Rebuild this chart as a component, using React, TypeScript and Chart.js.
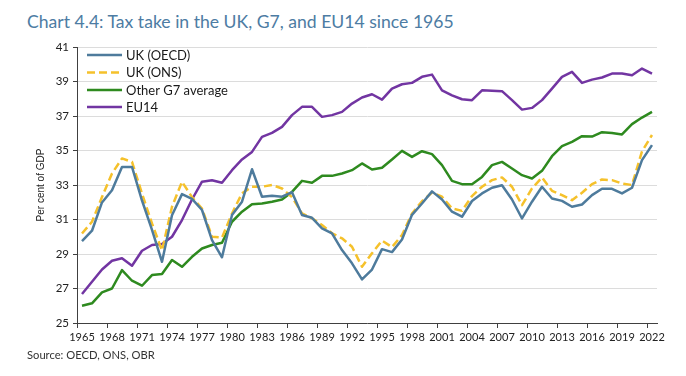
import React, { useEffect, useRef } from "react";
import { Chart, registerables } from "chart.js";

Chart.register(...registerables);

const years: string[] = [];
for (let y = 1965; y <= 2022; y++) years.push(String(y));

const ukOecd = [
  29.75, 30.35, 31.99, 32.7, 34.05, 34.05, 32.1, 30.4, 28.55, 31.25,
  32.47, 32.2, 31.55, 29.8, 28.81, 31.26, 32.03, 33.91, 32.32, 32.37,
  32.32, 32.58, 31.26, 31.1, 30.49, 30.2, 29.23, 28.46, 27.53, 28.1,
  29.28, 29.11, 29.84, 31.27, 31.93, 32.63, 32.16, 31.45, 31.16, 32.07,
  32.51, 32.84, 32.99, 32.16, 31.06, 32.03, 32.9, 32.22, 32.08, 31.74,
  31.87, 32.41, 32.78, 32.78, 32.51, 32.84, 34.44, 35.31,
];
const ukOns = [
  30.19, 30.87, 32.3, 33.67, 34.54, 34.34, 32.5, 30.77, 29.2, 31.74,
  33.19, 32.3, 31.64, 30.0, 29.95, 31.35, 32.52, 32.9, 32.9, 33.0,
  32.8, 32.3, 31.36, 31.07, 30.68, 30.2, 29.91, 29.42, 28.26, 29.04,
  29.78, 29.4, 30.1, 31.35, 32.06, 32.56, 32.32, 31.64, 31.5, 32.36,
  32.9, 33.28, 33.44, 32.9, 31.83, 32.8, 33.44, 32.66, 32.41, 32.12,
  32.55, 33.05, 33.32, 33.28, 33.09, 33.0, 34.95, 35.9,
];
const g7Average = [
  26.0, 26.14, 26.78, 27.0, 28.07, 27.45, 27.16, 27.78, 27.84, 28.65,
  28.26, 28.84, 29.32, 29.52, 29.65, 30.87, 31.45, 31.89, 31.93, 32.03,
  32.16, 32.6, 33.24, 33.13, 33.53, 33.53, 33.67, 33.86, 34.25, 33.9,
  34.0, 34.48, 34.98, 34.63, 34.96, 34.79, 34.15, 33.24, 33.05, 33.05,
  33.47, 34.15, 34.34, 33.96, 33.57, 33.38, 33.82, 34.67, 35.25, 35.5,
  35.83, 35.81, 36.06, 36.02, 35.93, 36.53, 36.91, 37.24,
];
const eu14 = [
  26.68, 27.39, 28.1, 28.61, 28.75, 28.32, 29.19, 29.52, 29.58, 30.0,
  30.97, 32.16, 33.19, 33.28, 33.13, 33.86, 34.48, 34.92, 35.79, 36.02,
  36.37, 37.05, 37.53, 37.53, 36.95, 37.05, 37.24, 37.72, 38.07, 38.26,
  37.95, 38.59, 38.84, 38.92, 39.27, 39.4, 38.49, 38.2, 37.97, 37.92,
  38.49, 38.46, 38.44, 37.92, 37.37, 37.47, 37.92, 38.59, 39.27, 39.56,
  38.92, 39.11, 39.23, 39.46, 39.46, 39.36, 39.75, 39.46,
];

const seriesNames = ["UK (OECD)", "UK (ONS)", "Other G7 average", "EU14"];
const yMin = 25;
const yMax = 41;
const yStep = 2;

const legendPlugin = {
  id: "insideLegend",
  afterDatasetsDraw(chart: any) {
    const { ctx } = chart;
    const x0 = 87;
    const x1 = 122;
    const tx = 126;
    const rows = [55, 72.5, 90, 107];
    ctx.save();
    chart.data.datasets.forEach((ds: any, i: number) => {
      const y = rows[i];
      ctx.beginPath();
      ctx.strokeStyle = ds.borderColor;
      ctx.lineWidth = ds.borderWidth;
      ctx.setLineDash(ds.borderDash || []);
      ctx.moveTo(x0, y);
      ctx.lineTo(x1, y);
      ctx.stroke();
      ctx.setLineDash([]);
      ctx.fillStyle = "#1a1a1a";
      ctx.font = "13px Lato";
      ctx.textBaseline = "middle";
      ctx.textAlign = "left";
      ctx.fillText(ds.label, tx, y + 0.5);
    });
    ctx.restore();
  },
};

export default function App() {
  const ref = useRef<HTMLCanvasElement>(null);
  useEffect(() => {
    if (!ref.current) return;
    const chart = new Chart(ref.current, {
      type: "line",
      data: {
        labels: years,
        datasets: [
          { label: seriesNames[0], data: ukOecd, borderColor: "#4e7b9c", borderWidth: 2.5 },
          { label: seriesNames[1], data: ukOns, borderColor: "#f5c12b", borderWidth: 2.5, borderDash: [8, 4] },
          { label: seriesNames[2], data: g7Average, borderColor: "#2e8a1f", borderWidth: 2.5 },
          { label: seriesNames[3], data: eu14, borderColor: "#7235a2", borderWidth: 2.5 },
        ],
      },
      options: {
        responsive: false,
        animation: false,
        devicePixelRatio: 1,
        layout: { padding: { left: 0, right: 29, top: 47, bottom: 0 } },
        elements: {
          point: { radius: 0, hoverRadius: 0 },
          line: { tension: 0, borderJoinStyle: "round", fill: false },
        },
        plugins: { legend: { display: false }, title: { display: false }, tooltip: { enabled: false } },
        scales: {
          x: {
            type: "category",
            offset: true,
            afterFit: (s: any) => { s.height = 53; },
            border: { display: true, color: "#404040", width: 1 },
            grid: {
              offset: true,
              drawOnChartArea: false,
              drawTicks: true,
              tickLength: 5,
              tickColor: (c: any) => (c.index % 3 === 0 ? "#404040" : "rgba(0,0,0,0)"),
            },
            ticks: {
              autoSkip: false,
              maxRotation: 0,
              minRotation: 0,
              padding: 3,
              color: "#222",
              font: { family: "Lato", size: 11 },
              callback: (_v: any, i: number) => (i % 3 === 0 ? years[i] : ""),
            },
          },
          y: {
            min: yMin,
            max: yMax,
            afterFit: (s: any) => { s.width = 77; },
            border: { display: true, color: "#404040", width: 1 },
            grid: { color: "#dcdcdc", lineWidth: 1, tickColor: "#404040", tickLength: 4 },
            ticks: {
              stepSize: yStep,
              padding: 4,
              color: "#222",
              font: { family: "Lato", size: 11.5 },
            },
            title: {
              display: true,
              text: "Per cent of GDP",
              color: "#222",
              font: { family: "Liberation Sans", size: 10 },
              padding: { top: 35, bottom: 0 },
            },
          },
        },
      },
      plugins: [legendPlugin],
    } as any);
    return () => chart.destroy();
  }, []);

  return (
    <div style={{ position: "fixed", left: 0, top: 0, width: 686, height: 376, background: "#fff" }}>
      <div
        style={{
          position: "absolute",
          left: 27,
          top: 10.5,
          fontFamily: "Lato",
          fontSize: 17.6,
          color: "#4d7ca3",
          whiteSpace: "nowrap",
          lineHeight: "normal",
        }}
      >
        Chart 4.4: Tax take in the UK, G7, and EU14 since 1965
      </div>
      <canvas ref={ref} width={686} height={376} style={{ position: "absolute", left: 0, top: 0 }} />
      <div
        style={{
          position: "absolute",
          left: 27,
          top: 347.5,
          fontFamily: "Lato",
          fontSize: 11.2,
          color: "#333",
          whiteSpace: "nowrap",
          lineHeight: "normal",
        }}
      >
        Source: OECD, ONS, OBR
      </div>
    </div>
  );
}
